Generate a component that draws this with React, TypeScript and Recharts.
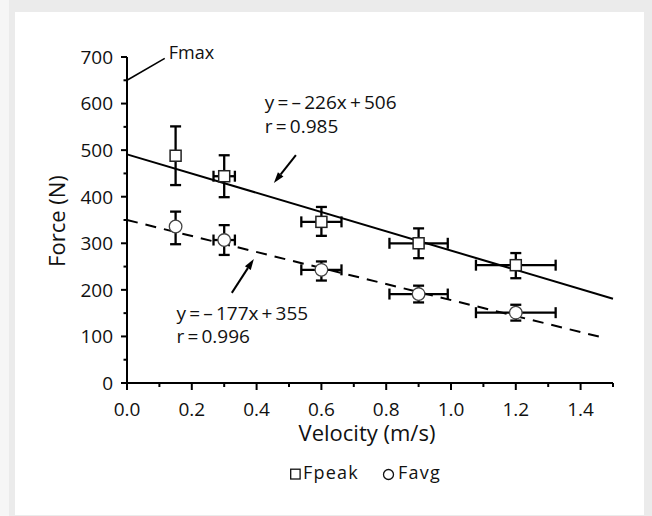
import React from 'react';
import {
  ComposedChart,
  Scatter,
  XAxis,
  YAxis,
  ErrorBar,
  ReferenceLine,
  ReferenceDot,
  Legend,
} from 'recharts';

const FONT = "'Open Sans', 'DejaVu Sans', sans-serif";

// ---- data ----
const velocities = [0.15, 0.3, 0.6, 0.9, 1.2];
const velocityErr = [0, 0.033, 0.062, 0.09, 0.123];

const peakForce = [488, 444, 346, 300, 253];
const peakUpper = [551, 489, 378, 332, 279];
const peakLower = [425, 399, 316, 268, 225];

const avgForce = [336, 307, 243, 191, 151];
const avgUpper = [368, 339, 261, 209, 168];
const avgLower = [298, 275, 220, 173, 134];

const peakFitX = [0, 1.5];
const peakFitY = [491, 181];
const avgFitX = [0, 1.466];
const avgFitY = [350, 98];

const xTicks = [0, 0.1, 0.2, 0.3, 0.4, 0.5, 0.6, 0.7, 0.8, 0.9, 1.0, 1.1, 1.2, 1.3, 1.4, 1.5];
const yTicks = [0, 50, 100, 150, 200, 250, 300, 350, 400, 450, 500, 550, 600, 650, 700];

const seriesNames = ['Fpeak', 'Favg'];

const fmaxLineX = [0, 0.1165];
const fmaxLineY = [650, 697];
const fmaxLabel = { x: 0.129, y: 695, text: 'Fmax' };

const peakEqLines = ['y\u2009=\u2009–\u2009226x\u2009+\u2009506', 'r\u2009=\u20090.985'];
const peakEqPos = { x: 0.4255, y: 588 };
const avgEqLines = ['y\u2009=\u2009–\u2009177x\u2009+\u2009355', 'r\u2009=\u20090.996'];
const avgEqPos = { x: 0.153, y: 136.3 };

const arrowPeakX = [0.5213, 0.4533];
const arrowPeakY = [489.3, 429.3];
const arrowAvgX = [0.3235, 0.3915];
const arrowAvgY = [193.5, 266.4];

const peakData = velocities.map((x, i) => ({
  x,
  y: peakForce[i],
  yErr: [peakForce[i] - peakLower[i], peakUpper[i] - peakForce[i]],
  xErr: velocityErr[i],
}));
const avgData = velocities.map((x, i) => ({
  x,
  y: avgForce[i],
  yErr: [avgForce[i] - avgLower[i], avgUpper[i] - avgForce[i]],
  xErr: velocityErr[i],
}));

// ---- rendering helpers ----
const XTick = (props: any) => {
  const { x, y, payload } = props;
  const v = payload.value;
  const major = Math.round(v * 10) % 2 === 0;
  return (
    <g>
      <line x1={x} y1={y} x2={x} y2={y + (major ? 7 : 4)} stroke="#000" strokeWidth={2} />
      {major && (
        <text x={x} y={y + 33} textAnchor="middle" fontSize={19} fill="#111" fontFamily={FONT}>
          {v.toFixed(1)}
        </text>
      )}
    </g>
  );
};

const YTick = (props: any) => {
  const { x, y, payload } = props;
  const v = payload.value;
  const major = v % 100 === 0;
  return (
    <g>
      <line x1={x} y1={y} x2={x - (major ? 6 : 3.5)} y2={y} stroke="#000" strokeWidth={2} />
      {major && (
        <text x={x - 14} y={y} dy="0.36em" textAnchor="end" fontSize={19} fill="#111" fontFamily={FONT}>
          {v}
        </text>
      )}
    </g>
  );
};

const SquareShape = (props: any) => {
  const { cx, cy } = props;
  return <rect x={cx - 5.5} y={cy - 5.5} width={11} height={11} fill="#fff" stroke="#222" strokeWidth={1.5} />;
};
const CircleShape = (props: any) => {
  const { cx, cy } = props;
  return <circle cx={cx} cy={cy} r={6.3} fill="#fff" stroke="#444" strokeWidth={1.3} />;
};

const ArrowShape = (props: any) => {
  const { x1, y1, x2, y2 } = props;
  const ang = Math.atan2(y2 - y1, x2 - x1);
  const len = 11;
  const half = 3.5;
  const bx = x2 - len * Math.cos(ang);
  const by = y2 - len * Math.sin(ang);
  const px = -Math.sin(ang) * half;
  const py = Math.cos(ang) * half;
  return (
    <g>
      <line x1={x1} y1={y1} x2={bx} y2={by} stroke="#000" strokeWidth={2} />
      <polygon points={`${x2},${y2} ${bx + px},${by + py} ${bx - px},${by - py}`} fill="#000" />
    </g>
  );
};

const makeTextShape = (lines: string[], size: number) => (props: any) => {
  const { cx, cy } = props;
  return (
    <text x={cx} y={cy} fontSize={size} fill="#111" fontFamily={FONT}>
      {lines.map((l, i) => (
        <tspan key={i} x={cx} dy={i === 0 ? 0 : 23.5}>
          {l}
        </tspan>
      ))}
    </text>
  );
};

const XLabel = (props: any) => {
  const vb = props.viewBox || { x: 127, y: 383, width: 486, height: 133 };
  return (
    <text x={vb.x + vb.width / 2 - 3} y={vb.y + 58} textAnchor="middle" fontSize={22} fill="#111" fontFamily={FONT}>
      Velocity (m/s)
    </text>
  );
};

const YLabel = (props: any) => {
  const vb = props.viewBox || { x: 0, y: 57, width: 127, height: 326 };
  const cx = vb.x + 65;
  const cy = vb.y + vb.height / 2 + 1;
  return (
    <text
      x={cx}
      y={cy}
      transform={`rotate(-90, ${cx}, ${cy})`}
      textAnchor="middle"
      fontSize={22}
      fill="#111"
      fontFamily={FONT}
    >
      Force (N)
    </text>
  );
};

const renderLegend = () => (
  <svg width={180} height={30} style={{ display: 'block' }}>
    <rect x={10.7} y={9.2} width={9.4} height={9.8} fill="#fff" stroke="#111" strokeWidth={1.3} />
    <text x={23} y={19.3} fontSize={18} letterSpacing={1.2} fill="#111" fontFamily={FONT}>
      {seriesNames[0]}
    </text>
    <circle cx={108.5} cy={14.5} r={5} fill="#fff" stroke="#111" strokeWidth={1.3} />
    <text x={118} y={19.3} fontSize={18} letterSpacing={1.2} fill="#111" fontFamily={FONT}>
      {seriesNames[1]}
    </text>
  </svg>
);

export default function App() {
  return (
    <div style={{ position: 'absolute', top: 0, left: 0, width: 652, height: 516, background: '#ebebeb' }}>
      <div style={{ position: 'absolute', top: 0, left: 0, width: 9, height: 516, background: '#f6f6f6' }} />
      <div style={{ position: 'absolute', top: 12, left: 15, width: 629, height: 503, background: '#ffffff' }} />
      <div style={{ position: 'absolute', top: 0, left: 0 }}>
        <ComposedChart width={652} height={516} margin={{ top: 57, right: 39, bottom: 0, left: 0 }}>
          <XAxis
            type="number"
            dataKey="x"
            domain={[0, 1.5]}
            ticks={xTicks}
            interval={0}
            tickSize={0}
            tickMargin={0}
            tickLine={false}
            tick={<XTick />}
            axisLine={{ stroke: '#000', strokeWidth: 2 }}
            height={133}
            allowDataOverflow
            label={XLabel}
          />
          <YAxis
            type="number"
            dataKey="y"
            domain={[0, 700]}
            ticks={yTicks}
            interval={0}
            tickSize={0}
            tickMargin={0}
            tickLine={false}
            tick={<YTick />}
            axisLine={{ stroke: '#000', strokeWidth: 2 }}
            width={127}
            allowDataOverflow
            label={YLabel}
          />
          <Scatter
            name={seriesNames[0]}
            data={peakData}
            shape={SquareShape}
            legendType="square"
            isAnimationActive={false}
          >
            <ErrorBar dataKey="yErr" direction="y" width={5.5} stroke="#000" strokeWidth={2.3} isAnimationActive={false} />
            <ErrorBar dataKey="xErr" direction="x" width={5.5} stroke="#000" strokeWidth={2.3} isAnimationActive={false} />
          </Scatter>
          <Scatter
            name={seriesNames[1]}
            data={avgData}
            shape={CircleShape}
            legendType="circle"
            isAnimationActive={false}
          >
            <ErrorBar dataKey="yErr" direction="y" width={5.5} stroke="#000" strokeWidth={2.3} isAnimationActive={false} />
            <ErrorBar dataKey="xErr" direction="x" width={5.5} stroke="#000" strokeWidth={2.3} isAnimationActive={false} />
          </Scatter>
          <ReferenceLine
            segment={[
              { x: peakFitX[0], y: peakFitY[0] },
              { x: peakFitX[1], y: peakFitY[1] },
            ]}
            stroke="#000"
            strokeWidth={2}
            ifOverflow="visible"
          />
          <ReferenceLine
            segment={[
              { x: avgFitX[0], y: avgFitY[0] },
              { x: avgFitX[1], y: avgFitY[1] },
            ]}
            stroke="#000"
            strokeWidth={2}
            strokeDasharray="11 8"
            ifOverflow="visible"
          />
          <ReferenceLine
            segment={[
              { x: fmaxLineX[0], y: fmaxLineY[0] },
              { x: fmaxLineX[1], y: fmaxLineY[1] },
            ]}
            stroke="#000"
            strokeWidth={1.6}
            ifOverflow="visible"
          />
          <ReferenceLine
            segment={[
              { x: arrowPeakX[0], y: arrowPeakY[0] },
              { x: arrowPeakX[1], y: arrowPeakY[1] },
            ]}
            shape={ArrowShape}
            ifOverflow="visible"
          />
          <ReferenceLine
            segment={[
              { x: arrowAvgX[0], y: arrowAvgY[0] },
              { x: arrowAvgX[1], y: arrowAvgY[1] },
            ]}
            shape={ArrowShape}
            ifOverflow="visible"
          />
          <ReferenceDot
            x={fmaxLabel.x}
            y={fmaxLabel.y}
            r={0}
            ifOverflow="visible"
            shape={makeTextShape([fmaxLabel.text], 18)}
          />
          <ReferenceDot x={peakEqPos.x} y={peakEqPos.y} r={0} ifOverflow="visible" shape={makeTextShape(peakEqLines, 19)} />
          <ReferenceDot x={avgEqPos.x} y={avgEqPos.y} r={0} ifOverflow="visible" shape={makeTextShape(avgEqLines, 19)} />
          <Legend
            layout="horizontal"
            verticalAlign="middle"
            align="center"
            content={renderLegend}
            wrapperStyle={{ top: 460, left: 280, width: 180, height: 30 }}
          />
        </ComposedChart>
      </div>
    </div>
  );
}
